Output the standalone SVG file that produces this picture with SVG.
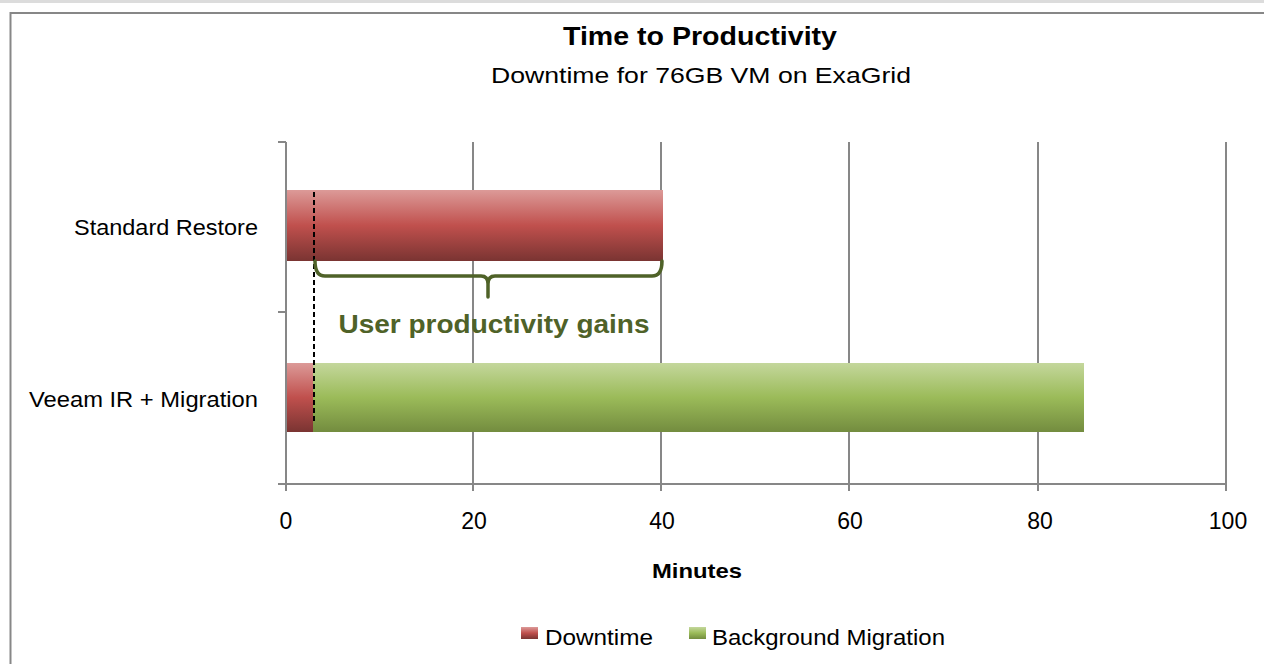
<svg xmlns="http://www.w3.org/2000/svg" width="1264" height="664" viewBox="0 0 1264 664">
<defs>
<linearGradient id="gRed" x1="0" y1="0" x2="0" y2="1">
<stop offset="0" stop-color="#dc9a98"/>
<stop offset="0.5" stop-color="#c0504d"/>
<stop offset="1" stop-color="#7a3432"/>
</linearGradient>
<linearGradient id="gGreen" x1="0" y1="0" x2="0" y2="1">
<stop offset="0" stop-color="#c4d79c"/>
<stop offset="0.5" stop-color="#9bbb59"/>
<stop offset="1" stop-color="#738c3f"/>
</linearGradient>
<style>
.t{font-family:"Liberation Sans","DejaVu Sans",sans-serif;fill:#000}
.grid{stroke:#878787;stroke-width:2;fill:none}
.lbl{font-size:22px}
.tick{font-size:23px;text-anchor:middle}
</style>
</defs>
<rect x="0" y="0" width="1264" height="664" fill="#fff"/>
<rect x="0" y="0" width="1264" height="3" fill="#dcdcdc"/>
<path d="M10.5,664 V13 H1264" stroke="#878787" stroke-width="2" fill="none"/>

<g id="title">
<text class="t" x="700" y="45" font-size="25" font-weight="bold" text-anchor="middle" textLength="274" lengthAdjust="spacingAndGlyphs">Time to Productivity</text>
<text class="t" x="701" y="83" font-size="22" text-anchor="middle" textLength="420" lengthAdjust="spacingAndGlyphs">Downtime for 76GB VM on ExaGrid</text>
</g>

<g id="grid">
<path class="grid" d="M473,142V491 M661,142V491 M849,142V491 M1038,142V491 M1226,142V491"/>
<path class="grid" d="M286,142V491 M278,142H286 M278,312H286 M278,484H286 M278,484H1226"/>
</g>

<g id="axis-labels">
<text class="t tick" x="286" y="529">0</text>
<text class="t tick" x="474" y="529">20</text>
<text class="t tick" x="662" y="529">40</text>
<text class="t tick" x="850" y="529">60</text>
<text class="t tick" x="1040" y="529">80</text>
<text class="t tick" x="1228" y="529">100</text>
<text class="t" x="697" y="578" font-size="21" font-weight="bold" text-anchor="middle" textLength="90" lengthAdjust="spacingAndGlyphs">Minutes</text>
<text class="t lbl" x="258" y="235" text-anchor="end" textLength="184" lengthAdjust="spacingAndGlyphs">Standard Restore</text>
<text class="t lbl" x="258" y="407" text-anchor="end" textLength="229" lengthAdjust="spacingAndGlyphs">Veeam IR + Migration</text>
</g>

<g id="bar-standard">
<rect x="287" y="190" width="376" height="71" fill="url(#gRed)"/>
</g>
<g id="bar-veeam">
<rect x="287" y="363" width="26" height="69" fill="url(#gRed)"/>
<rect x="313" y="363" width="771" height="69" fill="url(#gGreen)"/>
</g>

<g id="annotation">
<line x1="314" y1="192" x2="314" y2="424" stroke="#000" stroke-width="2" stroke-dasharray="5,3"/>
<path d="M315,261 Q315,276 325,276 H481 Q488,276 488,284 V297 M488,284 Q488,276 495,276 H652 Q662,276 662,261" stroke="#4f6228" stroke-width="3.5" fill="none" stroke-linecap="round"/>
<text class="t" x="494" y="333" font-size="25" font-weight="bold" style="fill:#4f6228" text-anchor="middle" textLength="311" lengthAdjust="spacingAndGlyphs">User productivity gains</text>
</g>

<g id="legend">
<rect x="521" y="627" width="17" height="12" fill="url(#gRed)"/>
<text class="t" x="545" y="645" font-size="22" textLength="108" lengthAdjust="spacingAndGlyphs">Downtime</text>
<rect x="689" y="627" width="17" height="12" fill="url(#gGreen)"/>
<text class="t" x="712" y="645" font-size="22" textLength="233" lengthAdjust="spacingAndGlyphs">Background Migration</text>
</g>
</svg>
